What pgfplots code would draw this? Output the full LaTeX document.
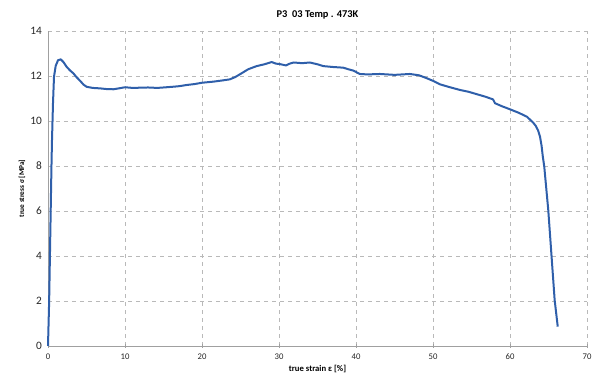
\documentclass[border=0pt]{standalone}
\usepackage{pgfplots}
\pgfplotsset{compat=1.18}
\usepackage{fontspec}
\setmainfont{Carlito}
\definecolor{curve}{RGB}{47,95,170}
\definecolor{gridc}{RGB}{185,185,185}
\definecolor{axc}{RGB}{160,160,160}
\begin{document}
\begin{tikzpicture}[x=0.75pt,y=0.75pt]
\begin{axis}[
  scale only axis,
  width=404.25pt, height=236.25pt,
  xmin=0, xmax=70, ymin=0, ymax=14,
  xtick={0,10,...,70}, ytick={0,2,...,14},
  axis x line=bottom, axis y line=left,
  axis line style={axc, -, line width=0.6pt},
  x axis line style={-}, y axis line style={-},
  grid=major,
  major grid style={gridc, dashed, line width=0.5pt},
  tick style={axc, line width=0.5pt},
  xtick align=center, ytick align=inside,
  major tick length=3pt,
  y tick style={draw=none},
  /pgf/number format/assume math mode=true,
  xticklabel style={font=\fontsize{6.5}{7}\selectfont, text=black!85, yshift=-1pt},
  yticklabel style={font=\fontsize{8.5}{9}\selectfont, text=black!85, xshift=-1pt},
  title={\bfseries P3\ \ 03 Temp . 473K},
  title style={font=\fontsize{7.8}{9}\selectfont, yshift=-1pt},
  xlabel={\bfseries true strain ε [\%]},
  ylabel={\bfseries true stress σ [MPa]},
  xlabel style={font=\fontsize{6.5}{8}\selectfont, yshift=3pt},
  ylabel style={font=\fontsize{5.5}{7}\selectfont, yshift=-3pt},
  clip=false,
]
\addplot[curve, line width=1.5pt, line join=round] coordinates {
(0,0) (0.15,2) (0.3,5) (0.45,8) (0.52,9.16) (0.65,10.8) (0.78,11.97) (1.0,12.45) (1.3,12.7) (1.65,12.74) (2.0,12.62) (2.42,12.41) (2.85,12.25) (3.29,12.12) (3.7,11.95) (4.16,11.79) (4.6,11.62) (5.02,11.52) (5.8,11.47) (6.75,11.45) (7.6,11.42) (8.48,11.41) (9.2,11.45) (10,11.5) (11,11.47) (11.95,11.48) (13,11.49) (14.2,11.47) (15.4,11.5) (16.5,11.53) (17.1,11.55) (18,11.6) (19,11.64) (20,11.7) (21.5,11.75) (22.6,11.8) (23.6,11.85) (24.3,11.95) (24.9,12.07) (26,12.3) (27.1,12.44) (28.1,12.52) (29.05,12.62) (29.6,12.55) (30.1,12.53) (30.9,12.47) (31.4,12.55) (31.9,12.6) (33,12.57) (34.0,12.6) (35,12.52) (35.75,12.44) (37,12.4) (38.35,12.37) (39,12.3) (39.65,12.24) (40.5,12.09) (41.5,12.07) (43.1,12.09) (45,12.05) (47.0,12.09) (48.2,12.03) (49.2,11.9) (50.1,11.77) (50.9,11.63) (52.2,11.5) (53.5,11.38) (54.6,11.3) (55.7,11.19) (56.8,11.08) (57.8,10.96) (58.05,10.79) (59,10.65) (60.0,10.52) (61.1,10.37) (62.2,10.19) (62.6,10.06) (63.0,9.93) (63.35,9.78) (63.65,9.58) (63.9,9.3) (64.1,8.9) (64.25,8.45) (64.45,7.97) (64.97,6.04) (65.4,3.97) (65.8,2.04) (66.2,0.86)
};
\end{axis}
\pgfresetboundingbox
\path[use as bounding box] ([xshift=-36pt,yshift=-24pt]current axis.south west) rectangle ([xshift=9.75pt,yshift=23.25pt]current axis.north east);
\end{tikzpicture}
\end{document}
